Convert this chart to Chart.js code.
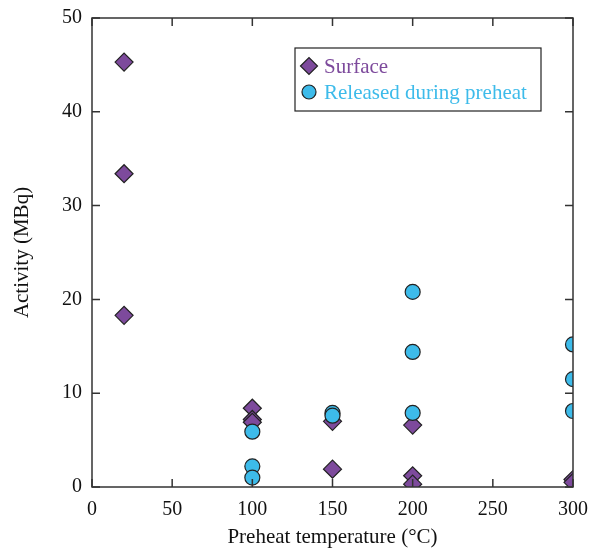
<!DOCTYPE html>
<html>
<head>
<meta charset="utf-8">
<script src="https://cdn.jsdelivr.net/npm/chart.js@4"></script>
<style>
  html, body { margin: 0; padding: 0; background: #fff; }
  #wrap { width: 590px; height: 548px; position: relative; }
</style>
</head>
<body>
<div id="wrap"><canvas id="c"></canvas></div>
<script>
// data
const surfaceX = [20, 20, 20, 100, 100, 100, 150, 150, 200, 200, 200, 300, 300]
const surfaceY = [45.3, 33.4, 18.3, 8.4, 7.2, 6.9, 7.0, 1.9, 6.6, 1.2, 0.3, 0.8, 0.5]
const releasedX = [100, 100, 100, 150, 150, 200, 200, 200, 300, 300, 300]
const releasedY = [5.9, 2.2, 1.0, 7.9, 7.6, 20.8, 14.4, 7.9, 15.2, 11.5, 8.1]
const xTicks = [0, 50, 100, 150, 200, 250, 300]
const yTicks = [0, 10, 20, 30, 40, 50]

const purple = '#7d4a9c'
const cyan = '#3dbbea'
const fontFam = '"Liberation Serif", "DejaVu Serif", serif'

const toPoints = (xs, ys) => xs.map((x, i) => ({ x: x, y: ys[i] }))

// box, inward ticks and legend
const framePlugin = {
    id: 'frame',
    afterDraw(chart) {
        const { ctx, chartArea: a, scales } = chart
        ctx.save()
        ctx.strokeStyle = '#333'
        ctx.lineWidth = 1.5
        ctx.strokeRect(a.left, a.top, a.right - a.left, a.bottom - a.top)
        ctx.beginPath()
        xTicks.forEach(v => {
            const px = scales.x.getPixelForValue(v)
            ctx.moveTo(px, a.bottom); ctx.lineTo(px, a.bottom - 8)
            ctx.moveTo(px, a.top); ctx.lineTo(px, a.top + 8)
        })
        yTicks.forEach(v => {
            const py = scales.y.getPixelForValue(v)
            ctx.moveTo(a.left, py); ctx.lineTo(a.left + 8, py)
            ctx.moveTo(a.right, py); ctx.lineTo(a.right - 8, py)
        })
        ctx.stroke()

        // legend box
        const lx = 295, ly = 48, lw = 246, lh = 63
        ctx.fillStyle = '#fff'
        ctx.fillRect(lx, ly, lw, lh)
        ctx.strokeStyle = '#222'
        ctx.lineWidth = 1.2
        ctx.strokeRect(lx, ly, lw, lh)
        const items = [
            { label: 'Surface', color: purple, style: 'rectRot', r: 8.5, y: 66 },
            { label: 'Released during preheat', color: cyan, style: 'circle', r: 7, y: 92 }
        ]
        items.forEach(it => {
            ctx.fillStyle = it.color
            ctx.strokeStyle = '#222'
            ctx.lineWidth = 1.2
            Chart.helpers.drawPoint(ctx, { pointStyle: it.style, radius: it.r, borderWidth: 1.2 }, 309, it.y)
            ctx.fillStyle = it.color
            ctx.font = '21px ' + fontFam
            ctx.textBaseline = 'middle'
            ctx.fillText(it.label, 324, it.y + 1)
        })
        ctx.restore()
    }
}

new Chart(document.getElementById('c'), {
    type: 'scatter',
    data: {
        datasets: [{
            label: 'Surface',
            data: toPoints(surfaceX, surfaceY),
            pointStyle: 'rectRot',
            pointRadius: 9,
            pointHoverRadius: 9,
            backgroundColor: purple,
            borderColor: '#222',
            borderWidth: 1.2,
            order: 2
        }, {
            label: 'Released during preheat',
            data: toPoints(releasedX, releasedY),
            pointStyle: 'circle',
            pointRadius: 7.5,
            pointHoverRadius: 7.5,
            backgroundColor: cyan,
            borderColor: '#222',
            borderWidth: 1.2,
            order: 1
        }]
    },
    options: {
        responsive: true,
        maintainAspectRatio: false,
        animation: false,
        layout: { padding: { top: 18, right: 17, left: 0, bottom: 0 } },
        plugins: { legend: { display: false }, tooltip: { enabled: false } },
        scales: {
            x: {
                type: 'linear',
                min: 0, max: 300,
                afterBuildTicks: s => { s.ticks = xTicks.map(v => ({ value: v })) },
                afterFit: s => { s.height = 61; s.paddingLeft = 0; s.paddingRight = 0 },
                grid: { display: false, drawTicks: false },
                border: { display: false },
                ticks: { color: '#111', padding: 11, font: { family: fontFam, size: 20 } },
                title: {
                    display: true, text: 'Preheat temperature (°C)', color: '#111',
                    font: { family: fontFam, size: 21 }, padding: { top: 14, bottom: -2 }
                }
            },
            y: {
                type: 'linear',
                min: 0, max: 50,
                afterBuildTicks: s => { s.ticks = yTicks.map(v => ({ value: v })) },
                afterFit: s => { s.width = 92; s.paddingTop = 0; s.paddingBottom = 0 },
                grid: { display: false, drawTicks: false },
                border: { display: false },
                ticks: { color: '#111', padding: 10, font: { family: fontFam, size: 20 } },
                title: {
                    display: true, text: 'Activity (MBq)', color: '#111',
                    font: { family: fontFam, size: 21 }, padding: { top: 10, bottom: 0 }
                }
            }
        }
    },
    plugins: [framePlugin]
})
</script>
</body>
</html>
